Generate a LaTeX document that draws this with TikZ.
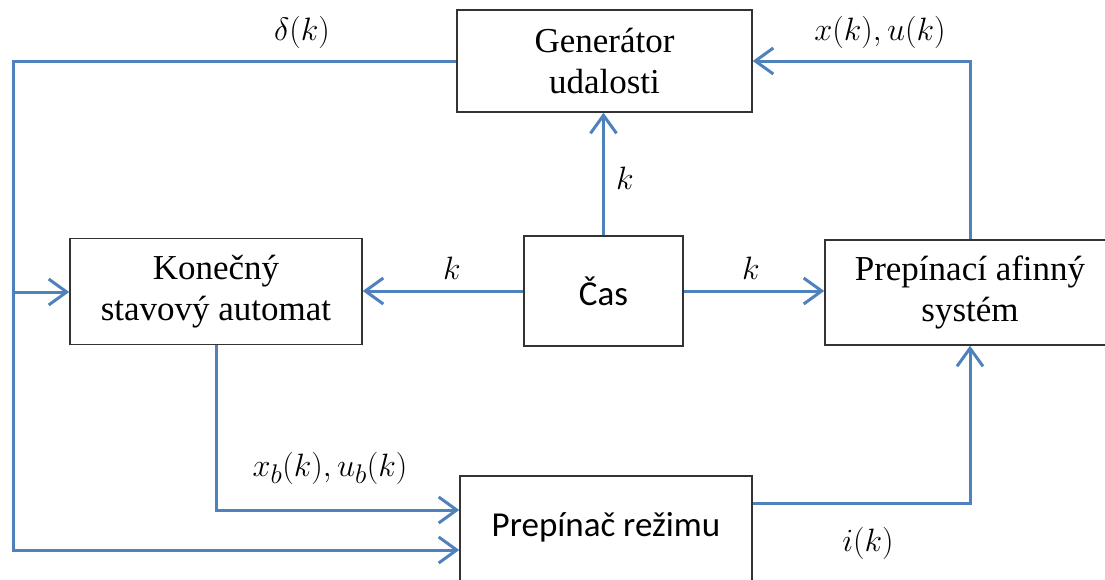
\documentclass[tikz,border=0pt]{standalone}
\usepackage{fontspec}
\setmainfont{Liberation Serif}
\newfontfamily\tnr{Liberation Serif}
\newfontfamily\calibri{Carlito}
\usetikzlibrary{arrows.meta}
\definecolor{flow}{HTML}{4F81BD}
\definecolor{frame}{HTML}{333333}

\begin{document}
\begin{tikzpicture}[x=1pt,y=-1pt,
  block/.style={draw=frame, line width=1.5pt, align=center, inner sep=0pt,
    font=\tnr\fontsize{35}{41}\selectfont},
  sansblock/.style={block, font=\calibri\fontsize{35}{41}\selectfont},
  wire/.style={draw=flow, line width=3pt},
  link/.style={wire, -{Straight Barb[length=18pt,width=26pt]}},
  sig/.style={font=\fontsize{24.88}{30}\selectfont, inner sep=0pt}]
\useasboundingbox (0,0) rectangle (1105,579);

% blocks
\node[block, minimum width=295pt, minimum height=102pt] (gen) at (604.5,61) {Generátor\\udalosti};
\node[block, minimum width=292pt, minimum height=106pt] (fsm) at (216,291.5) {Konečný\\stavový automat};
\node[sansblock, minimum width=159pt, minimum height=110pt] (cas) at (603.5,291) {Čas};
\node[block, minimum width=290pt, minimum height=105pt] (psa) at (970,292.5) {Prepínací afinný\\systém};
\node[block, minimum width=292pt, minimum height=125pt, anchor=north] (prep) at (606,475) {};
\node[font=\calibri\fontsize{35}{41}\selectfont, inner sep=0pt] (prepT) at (606,527) {Prepínač režimu};

% helper points of the feedback wiring
\coordinate (lt) at (13,61);
\coordinate (lm) at (13,292);
\coordinate (lb) at (13,550);
\coordinate (yb) at (0,510);
\coordinate (yo) at (0,503);

% connectors
\draw[link] (gen.west) -- (lt) -- (lb) -- (lb -| prep.west);
\draw[link] (lm) -- (lm -| fsm.west);
\draw[link] (fsm.south) |- (prep.west |- yb);
\draw[link] (prep.east |- yo) -| (psa.south);
\draw[link] (psa.north) |- (gen.east);
\draw[link] (cas.north) -- (cas.north |- gen.south);
\draw[link] (cas.west) -- (cas.west -| fsm.east);
\draw[link] (cas.east) -- (cas.east -| psa.west);

% signal labels
\node[sig] (ld) at (302,32) {\scalebox{1.3}{$\delta(k)$}};
\node[sig] (lxu) at (880,32) {\scalebox{1.3}{$x(k),u(k)$}};
\node[sig] (lk1) at (625,178) {\scalebox{1.3}{$k$}};
\node[sig] (lk2) at (452,268) {\scalebox{1.3}{$k$}};
\node[sig] (lk3) at (751,268) {\scalebox{1.3}{$k$}};
\node[sig] (lxb) at (330,468) {\scalebox{1.3}{$x_b(k),u_b(k)$}};
\node[sig] (li) at (868,543) {\scalebox{1.3}{$i(k)$}};
\end{tikzpicture}
\end{document}
